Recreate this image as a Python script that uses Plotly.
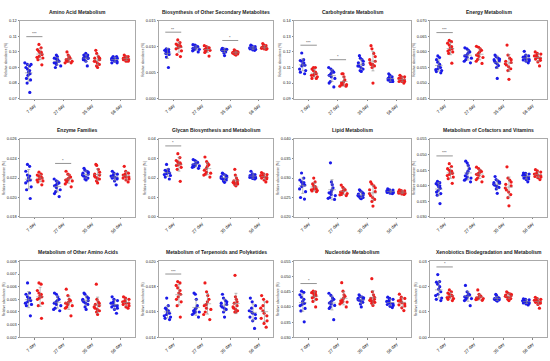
import numpy as np
import plotly.graph_objects as go

DAYS = ["7 day", "27 day", "35 day", "56 day"]

TITLES = [
    "Amino Acid Metabolism", "Biosynthesis of Other Secondary Metabolites",
    "Carbohydrate Metabolism", "Energy Metabolism",
    "Enzyme Families", "Glycan Biosynthesis and Metabolism",
    "Lipid Metabolism", "Metabolism of Cofactors and Vitamins",
    "Metabolism of Other Amino Acids", "Metabolism of Terpenoids and Polyketides",
    "Nucleotide Metabolism", "Xenobiotics Biodegradation and Metabolism",
]

# ---- values: one list per day (7, 27, 35, 56) ----
AA_BLUE = [[0.093, 0.092, 0.092, 0.091, 0.090, 0.089, 0.088, 0.087, 0.086, 0.085, 0.083, 0.082, 0.080, 0.074],
           [0.098, 0.097, 0.096, 0.0955, 0.095, 0.094, 0.094, 0.093, 0.093, 0.092, 0.091, 0.090],
           [0.099, 0.098, 0.098, 0.097, 0.097, 0.096, 0.096, 0.096, 0.095, 0.095, 0.094, 0.091],
           [0.097, 0.097, 0.096, 0.096, 0.096, 0.095, 0.095, 0.095, 0.094, 0.094, 0.093, 0.093]]
AA_RED = [[0.1048, 0.1026, 0.1015, 0.1004, 0.0998, 0.0993, 0.0983, 0.0972, 0.0965, 0.0961, 0.095, 0.0917],
          [0.100, 0.098, 0.097, 0.096, 0.096, 0.095, 0.095, 0.094, 0.094, 0.094, 0.093, 0.093],
          [0.101, 0.099, 0.097, 0.096, 0.096, 0.095, 0.094, 0.094, 0.093, 0.092, 0.091, 0.090],
          [0.098, 0.097, 0.097, 0.096, 0.096, 0.096, 0.095, 0.095, 0.095, 0.095, 0.094, 0.094]]

BIO_BLUE = [[0.0096, 0.0095, 0.0093, 0.0092, 0.0091, 0.0090, 0.0089, 0.0088, 0.0087, 0.0085, 0.0080, 0.0060],
            [0.0104, 0.0103, 0.0101, 0.0100, 0.0099, 0.0098, 0.0097, 0.0096, 0.0095, 0.0094, 0.0092, 0.0090],
            [0.0097, 0.0096, 0.0095, 0.0095, 0.0094, 0.0094, 0.0093, 0.0093, 0.0092, 0.0090, 0.0088, 0.0083],
            [0.0103, 0.0101, 0.0100, 0.0099, 0.0098, 0.0097, 0.0097, 0.0096, 0.0096, 0.0095, 0.0094, 0.0093]]
BIO_RED = [[0.0113, 0.0108, 0.0105, 0.0103, 0.0102, 0.0101, 0.0100, 0.0098, 0.0096, 0.0092, 0.0085, 0.0081],
           [0.0102, 0.0100, 0.0099, 0.0098, 0.0097, 0.0096, 0.0095, 0.0094, 0.0093, 0.0091, 0.0089, 0.0082],
           [0.0094, 0.0092, 0.0091, 0.0090, 0.0089, 0.0088, 0.0088, 0.0087, 0.0087, 0.0086, 0.0085, 0.0084],
           [0.0106, 0.0103, 0.0102, 0.0100, 0.0099, 0.0098, 0.0098, 0.0097, 0.0097, 0.0096, 0.0096, 0.0095]]

CARB_BLUE = [[0.1193, 0.115, 0.1145, 0.114, 0.113, 0.112, 0.1115, 0.111, 0.109, 0.108, 0.107, 0.106],
             [0.110, 0.109, 0.108, 0.107, 0.107, 0.106, 0.105, 0.104, 0.103, 0.101, 0.100, 0.0975],
             [0.1176, 0.116, 0.115, 0.114, 0.113, 0.112, 0.111, 0.111, 0.110, 0.109, 0.108, 0.1075],
             [0.106, 0.105, 0.104, 0.104, 0.103, 0.103, 0.102, 0.102, 0.102, 0.101, 0.101, 0.101]]
CARB_RED = [[0.110, 0.110, 0.109, 0.108, 0.107, 0.106, 0.106, 0.105, 0.105, 0.104, 0.103, 0.103],
            [0.106, 0.106, 0.104, 0.102, 0.101, 0.100, 0.100, 0.099, 0.099, 0.099, 0.098, 0.098],
            [0.124, 0.122, 0.119, 0.117, 0.115, 0.114, 0.113, 0.112, 0.112, 0.111, 0.110, 0.100],
            [0.105, 0.104, 0.104, 0.103, 0.103, 0.102, 0.102, 0.102, 0.101, 0.101, 0.101, 0.100]]

ENER_BLUE = [[0.0587, 0.0582, 0.0575, 0.0567, 0.0560, 0.0555, 0.0550, 0.0546, 0.0543, 0.0540, 0.0537, 0.0533],
             [0.0613, 0.0610, 0.0605, 0.0600, 0.0595, 0.0590, 0.0587, 0.0583, 0.0580, 0.0575, 0.0570, 0.0565],
             [0.0590, 0.0585, 0.0580, 0.0577, 0.0575, 0.0572, 0.0570, 0.0566, 0.0562, 0.0556, 0.0550, 0.0515],
             [0.0602, 0.0590, 0.0587, 0.0585, 0.0583, 0.0580, 0.0578, 0.0576, 0.0574, 0.0572, 0.0570, 0.0565]]
ENER_RED = [[0.0637, 0.0633, 0.0628, 0.0622, 0.0617, 0.0613, 0.0610, 0.0607, 0.0603, 0.0600, 0.0595, 0.0564],
            [0.0618, 0.0615, 0.0610, 0.0605, 0.0600, 0.0595, 0.0590, 0.0586, 0.0582, 0.0576, 0.0570, 0.0563],
            [0.0622, 0.0590, 0.0580, 0.0575, 0.0570, 0.0566, 0.0562, 0.0558, 0.0552, 0.0546, 0.0540, 0.0512],
            [0.0600, 0.0595, 0.0593, 0.0590, 0.0587, 0.0585, 0.0582, 0.0580, 0.0577, 0.0573, 0.0568, 0.0555]]

ENZ_BLUE = [[0.0234, 0.0232, 0.0227, 0.0223, 0.0222, 0.0220, 0.0218, 0.0217, 0.0215, 0.0211, 0.0208, 0.0199],
            [0.0219, 0.0217, 0.0216, 0.0215, 0.0214, 0.0213, 0.0212, 0.0210, 0.0208, 0.0206, 0.0204, 0.0201],
            [0.0230, 0.0228, 0.0227, 0.0226, 0.0225, 0.0224, 0.0223, 0.0222, 0.0221, 0.0220, 0.0219, 0.0218],
            [0.0227, 0.0225, 0.0224, 0.0223, 0.0222, 0.0221, 0.0221, 0.0220, 0.0220, 0.0219, 0.0217, 0.0213]]
ENZ_RED = [[0.0226, 0.0224, 0.0223, 0.0222, 0.0221, 0.0220, 0.0220, 0.0219, 0.0218, 0.0217, 0.0216, 0.0213],
           [0.0227, 0.0224, 0.0223, 0.0221, 0.0220, 0.0219, 0.0218, 0.0218, 0.0217, 0.0216, 0.0214, 0.0211],
           [0.0234, 0.0233, 0.0229, 0.0226, 0.0224, 0.0223, 0.0222, 0.0221, 0.0220, 0.0219, 0.0217, 0.0215],
           [0.0232, 0.0227, 0.0225, 0.0224, 0.0223, 0.0222, 0.0221, 0.0221, 0.0220, 0.0219, 0.0218, 0.0216]]

GLY_BLUE = [[0.0270, 0.0245, 0.0240, 0.0236, 0.0233, 0.0230, 0.0226, 0.0222, 0.0218, 0.0213, 0.0205, 0.0195],
            [0.0295, 0.0290, 0.0283, 0.0280, 0.0275, 0.0272, 0.0268, 0.0265, 0.0262, 0.0258, 0.0255, 0.0250],
            [0.0225, 0.0220, 0.0215, 0.0210, 0.0207, 0.0203, 0.0200, 0.0197, 0.0193, 0.0190, 0.0185, 0.0178],
            [0.0235, 0.0222, 0.0218, 0.0215, 0.0212, 0.0210, 0.0208, 0.0205, 0.0203, 0.0200, 0.0198, 0.0195]]
GLY_RED = [[0.0325, 0.0305, 0.0290, 0.0283, 0.0278, 0.0275, 0.0272, 0.0268, 0.0265, 0.0255, 0.0245, 0.0183],
           [0.0308, 0.0285, 0.0275, 0.0268, 0.0260, 0.0250, 0.0240, 0.0230, 0.0225, 0.0220, 0.0215, 0.0205],
           [0.0245, 0.0215, 0.0200, 0.0190, 0.0185, 0.0180, 0.0178, 0.0175, 0.0172, 0.0170, 0.0165, 0.0160],
           [0.0228, 0.0222, 0.0218, 0.0215, 0.0212, 0.0210, 0.0207, 0.0204, 0.0200, 0.0196, 0.0190, 0.0180]]

LIP_BLUE = [[0.0313, 0.0300, 0.0295, 0.0290, 0.0288, 0.0285, 0.0282, 0.0278, 0.0272, 0.0265, 0.0250, 0.0246],
            [0.0339, 0.0290, 0.0283, 0.0275, 0.0270, 0.0265, 0.0262, 0.0258, 0.0255, 0.0250, 0.0248, 0.0245],
            [0.0270, 0.0267, 0.0264, 0.0261, 0.0259, 0.0257, 0.0255, 0.0253, 0.0252, 0.0250, 0.0249, 0.0247],
            [0.0272, 0.0270, 0.0269, 0.0268, 0.0267, 0.0266, 0.0265, 0.0264, 0.0263, 0.0262, 0.0261, 0.0260]]
LIP_RED = [[0.0300, 0.0290, 0.0285, 0.0280, 0.0278, 0.0275, 0.0273, 0.0272, 0.0270, 0.0268, 0.0267, 0.0265],
           [0.0282, 0.0276, 0.0272, 0.0270, 0.0268, 0.0266, 0.0264, 0.0262, 0.0260, 0.0258, 0.0257, 0.0255],
           [0.0290, 0.0285, 0.0280, 0.0275, 0.0270, 0.0265, 0.0260, 0.0255, 0.0250, 0.0245, 0.0240, 0.0228],
           [0.0270, 0.0268, 0.0267, 0.0266, 0.0265, 0.0264, 0.0263, 0.0262, 0.0261, 0.0260, 0.0259, 0.0258]]

COF_BLUE = [[0.0414, 0.0410, 0.0407, 0.0403, 0.0400, 0.0397, 0.0392, 0.0385, 0.0380, 0.0375, 0.0370, 0.0343],
            [0.0479, 0.0473, 0.0465, 0.0455, 0.0447, 0.0440, 0.0432, 0.0428, 0.0425, 0.0422, 0.0418, 0.0413],
            [0.0430, 0.0420, 0.0415, 0.0412, 0.0410, 0.0408, 0.0405, 0.0402, 0.0398, 0.0395, 0.0390, 0.0376],
            [0.0441, 0.0440, 0.0438, 0.0436, 0.0434, 0.0432, 0.0430, 0.0428, 0.0425, 0.0422, 0.0420, 0.0413]]
COF_RED = [[0.0471, 0.0462, 0.0455, 0.0450, 0.0447, 0.0443, 0.0440, 0.0437, 0.0433, 0.0428, 0.0423, 0.0408],
           [0.0460, 0.0455, 0.0450, 0.0446, 0.0443, 0.0440, 0.0437, 0.0434, 0.0430, 0.0425, 0.0420, 0.0413],
           [0.0461, 0.0425, 0.0418, 0.0412, 0.0405, 0.0400, 0.0393, 0.0387, 0.0380, 0.0372, 0.0362, 0.0336],
           [0.0452, 0.0448, 0.0444, 0.0441, 0.0438, 0.0436, 0.0434, 0.0432, 0.0430, 0.0428, 0.0426, 0.0420]]

OAA_BLUE = [[0.0063, 0.0055, 0.0054, 0.0052, 0.0051, 0.0050, 0.0049, 0.0048, 0.0047, 0.0046, 0.0045, 0.0037],
            [0.0055, 0.0054, 0.0052, 0.0050, 0.0049, 0.0048, 0.0047, 0.0046, 0.0045, 0.0043, 0.0042, 0.0041],
            [0.0055, 0.0054, 0.0052, 0.0051, 0.0050, 0.0049, 0.0049, 0.0048, 0.0047, 0.0046, 0.0044, 0.0042],
            [0.0052, 0.0050, 0.0049, 0.0048, 0.0047, 0.0046, 0.0045, 0.0045, 0.0044, 0.0043, 0.0042, 0.0039]]
OAA_RED = [[0.0063, 0.0062, 0.0057, 0.0055, 0.0054, 0.0053, 0.0052, 0.0051, 0.0050, 0.0047, 0.0045, 0.0035],
           [0.0058, 0.0053, 0.0050, 0.0049, 0.0048, 0.0047, 0.0047, 0.0046, 0.0045, 0.0044, 0.0043, 0.0037],
           [0.0062, 0.0050, 0.0048, 0.0047, 0.0046, 0.0045, 0.0044, 0.0043, 0.0042, 0.0041, 0.0040, 0.0038],
           [0.0052, 0.0051, 0.0050, 0.0049, 0.0048, 0.0048, 0.0047, 0.0047, 0.0046, 0.0045, 0.0044, 0.0043]]

TER_BLUE = [[0.0171, 0.0165, 0.0163, 0.0162, 0.0161, 0.0160, 0.0159, 0.0158, 0.0157, 0.0156, 0.0155, 0.0154],
            [0.0175, 0.0174, 0.0170, 0.0165, 0.0163, 0.0162, 0.0161, 0.0160, 0.0160, 0.0159, 0.0158, 0.0156],
            [0.0174, 0.0171, 0.0169, 0.0168, 0.0167, 0.0166, 0.0165, 0.0164, 0.0163, 0.0162, 0.0160, 0.0156],
            [0.0171, 0.0168, 0.0165, 0.0163, 0.0161, 0.0160, 0.0159, 0.0158, 0.0156, 0.0155, 0.0153, 0.0147]]
TER_RED = [[0.0184, 0.0183, 0.0181, 0.0179, 0.0177, 0.0175, 0.0174, 0.0172, 0.0170, 0.0168, 0.0165, 0.0156],
           [0.0183, 0.0176, 0.0173, 0.0170, 0.0168, 0.0166, 0.0165, 0.0163, 0.0162, 0.0160, 0.0158, 0.0154],
           [0.0189, 0.0172, 0.0170, 0.0168, 0.0167, 0.0165, 0.0164, 0.0163, 0.0162, 0.0161, 0.0160, 0.0160],
           [0.0173, 0.0170, 0.0168, 0.0165, 0.0163, 0.0161, 0.0159, 0.0157, 0.0155, 0.0153, 0.0151, 0.0148]]

NUC_BLUE = [[0.0452, 0.0448, 0.0440, 0.0432, 0.0425, 0.0418, 0.0412, 0.0408, 0.0404, 0.0395, 0.0387, 0.0351],
            [0.0445, 0.0438, 0.0430, 0.0425, 0.0420, 0.0416, 0.0413, 0.0410, 0.0405, 0.0400, 0.0395, 0.0358],
            [0.0440, 0.0435, 0.0432, 0.0430, 0.0428, 0.0426, 0.0424, 0.0422, 0.0420, 0.0415, 0.0410, 0.0400],
            [0.0432, 0.0428, 0.0425, 0.0422, 0.0418, 0.0415, 0.0412, 0.0410, 0.0408, 0.0405, 0.0402, 0.0398]]
NUC_RED = [[0.0452, 0.0450, 0.0447, 0.0445, 0.0442, 0.0440, 0.0437, 0.0434, 0.0430, 0.0425, 0.0418, 0.0400],
           [0.0480, 0.0452, 0.0440, 0.0435, 0.0430, 0.0425, 0.0420, 0.0418, 0.0416, 0.0414, 0.0410, 0.0400],
           [0.0493, 0.0450, 0.0440, 0.0432, 0.0428, 0.0425, 0.0422, 0.0420, 0.0418, 0.0415, 0.0412, 0.0405],
           [0.0442, 0.0432, 0.0428, 0.0424, 0.0420, 0.0417, 0.0414, 0.0410, 0.0407, 0.0403, 0.0397, 0.0388]]

XEN_BLUE = [[0.0248, 0.0220, 0.0218, 0.0210, 0.0200, 0.0190, 0.0180, 0.0170, 0.0165, 0.0155, 0.0150, 0.0145],
            [0.0205, 0.0180, 0.0172, 0.0168, 0.0165, 0.0162, 0.0160, 0.0157, 0.0153, 0.0150, 0.0145, 0.0125],
            [0.0170, 0.0165, 0.0158, 0.0155, 0.0153, 0.0152, 0.0151, 0.0150, 0.0149, 0.0148, 0.0146, 0.0143],
            [0.0152, 0.0150, 0.0148, 0.0146, 0.0144, 0.0142, 0.0140, 0.0138, 0.0136, 0.0134, 0.0132, 0.0128]]
XEN_RED = [[0.0187, 0.0180, 0.0175, 0.0170, 0.0167, 0.0165, 0.0163, 0.0160, 0.0157, 0.0153, 0.0150, 0.0145],
           [0.0187, 0.0170, 0.0165, 0.0162, 0.0160, 0.0158, 0.0156, 0.0155, 0.0153, 0.0151, 0.0149, 0.0146],
           [0.0180, 0.0175, 0.0172, 0.0170, 0.0167, 0.0165, 0.0162, 0.0160, 0.0157, 0.0153, 0.0150, 0.0145],
           [0.0158, 0.0153, 0.0150, 0.0148, 0.0146, 0.0144, 0.0142, 0.0140, 0.0138, 0.0135, 0.0130, 0.0115]]

BLUE_SETS = [AA_BLUE, BIO_BLUE, CARB_BLUE, ENER_BLUE, ENZ_BLUE, GLY_BLUE,
             LIP_BLUE, COF_BLUE, OAA_BLUE, TER_BLUE, NUC_BLUE, XEN_BLUE]
RED_SETS = [AA_RED, BIO_RED, CARB_RED, ENER_RED, ENZ_RED, GLY_RED,
            LIP_RED, COF_RED, OAA_RED, TER_RED, NUC_RED, XEN_RED]

# axis ranges (min, max, step, tick format)
Y_AXES = [(0.07, 0.12, 0.01, ".2f"), (0.0, 0.015, 0.005, ".3f"), (0.09, 0.14, 0.01, ".2f"),
          (0.045, 0.070, 0.005, ".3f"), (0.018, 0.026, 0.002, ".3f"), (0.0, 0.04, 0.01, ".2f"),
          (0.020, 0.040, 0.005, ".3f"), (0.030, 0.055, 0.005, ".3f"), (0.002, 0.008, 0.001, ".3f"),
          (0.014, 0.020, 0.002, ".3f"), (0.030, 0.055, 0.005, ".3f"), (0.0, 0.03, 0.01, ".2f")]

# significance marks: (panel, day index, label)
SIGNIF = [(0, 0, "***"), (1, 0, "**"), (1, 2, "*"), (2, 0, "***"), (2, 1, "*"),
          (3, 0, "***"), (4, 1, "*"), (5, 0, "*"), (7, 0, "***"), (9, 0, "***"),
          (10, 0, "*"), (11, 0, "*")]

BLUE = "#1a1ae8"
RED = "#ee1c1c"
FONT = "Liberation Sans"

COL_DOM = [(20 / 550, 135 / 550), (159 / 550, 273 / 550), (294 / 550, 411 / 550), (430 / 550, 547 / 550)]
ROW_DOM = [(1 - 97 / 361, 1 - 18 / 361), (1 - 217 / 361, 1 - 138 / 361), (1 - 339 / 361, 1 - 262 / 361)]
OFF = 0.2

fig = go.Figure()
layout = dict(width=550, height=361, margin=dict(l=0, r=0, t=0, b=0),
              paper_bgcolor="white", plot_bgcolor="white", showlegend=False,
              font=dict(family=FONT, color="#222"), shapes=[], annotations=[])

for k in range(12):
    r, c = divmod(k, 4)
    xa = "x" if k == 0 else f"x{k+1}"
    ya = "y" if k == 0 else f"y{k+1}"
    lo, hi, step, fmt = Y_AXES[k]
    for sets, sgn, color in ((BLUE_SETS, -1, BLUE), (RED_SETS, 1, RED)):
        groups = sets[k]
        xs, ys = [], []
        for g, vals in enumerate(groups):
            xs += [g + sgn * OFF] * len(vals)
            ys += vals
        fig.add_trace(go.Box(x=xs, y=ys, xaxis=xa, yaxis=ya, boxpoints="all", jitter=0.9,
                             pointpos=0, width=0.3, line=dict(width=0, color="rgba(0,0,0,0)"),
                             fillcolor="rgba(0,0,0,0)", marker=dict(color=color, size=3.2),
                             hoverinfo="y"))
        means = [float(np.mean(v)) for v in groups]
        sds = [float(np.std(v, ddof=1)) for v in groups]
        fig.add_trace(go.Scatter(x=[g + sgn * OFF for g in range(4)], y=means, xaxis=xa, yaxis=ya,
                                 mode="markers", marker=dict(size=1, color="rgba(0,0,0,0)"),
                                 error_y=dict(type="data", array=sds, color="rgba(140,140,140,0.85)",
                                              thickness=0.7, width=1.5),
                                 error_x=dict(type="data", array=[0.13] * 4, color="rgba(140,140,140,0.85)",
                                              thickness=0.7, width=0),
                                 hoverinfo="skip"))
    ticks = list(np.round(np.arange(lo, hi + step / 2, step), 6))
    layout["xaxis" if k == 0 else f"xaxis{k+1}"] = dict(
        domain=COL_DOM[c], anchor=ya, range=[-0.5, 3.5], tickmode="array",
        tickvals=[0, 1, 2, 3], ticktext=DAYS, tickangle=-45, showgrid=False, zeroline=False,
        showline=True, mirror=True, linecolor="#aaa", linewidth=0.8, ticks="outside",
        ticklen=1.5, tickcolor="#888", tickfont=dict(size=4.5, family=FONT, color="#222"))
    layout["yaxis" if k == 0 else f"yaxis{k+1}"] = dict(
        domain=ROW_DOM[r], anchor=xa, range=[lo, hi], tickmode="array", tickvals=ticks,
        ticktext=[format(t, fmt) for t in ticks], showgrid=False, zeroline=False,
        showline=True, mirror=True, linecolor="#aaa", linewidth=0.8, ticks="outside",
        ticklen=1.5, tickcolor="#888", tickfont=dict(size=4, family=FONT, color="#222"),
        title=dict(text="Relative abundance (%)", font=dict(size=3.2, family=FONT, color="#333"),
                   standoff=1))
    layout["annotations"].append(dict(
        text=f"<b>{TITLES[k]}</b>", x=(COL_DOM[c][0] + COL_DOM[c][1]) / 2, y=ROW_DOM[r][1],
        xref="paper", yref="paper", xanchor="center", yanchor="bottom", yshift=4,
        showarrow=False, font=dict(size=5, family=FONT, color="#222")))

for k, g, label in SIGNIF:
    xa = "x" if k == 0 else f"x{k+1}"
    ya = "y" if k == 0 else f"y{k+1}"
    lo, hi, step, fmt = Y_AXES[k]
    top = max(max(BLUE_SETS[k][g]), max(RED_SETS[k][g]))
    ys = top + 0.1 * (hi - lo)
    layout["shapes"].append(dict(type="line", xref=xa, yref=ya, x0=g - OFF - 0.08, x1=g + OFF + 0.08,
                                 y0=ys, y1=ys, line=dict(color="#666", width=0.7)))
    layout["annotations"].append(dict(text=label, x=g, y=ys, xref=xa, yref=ya, showarrow=False,
                                      yanchor="bottom", yshift=-1.5,
                                      font=dict(size=4, family=FONT, color="#444")))

fig.update_layout(**layout)
fig.write_html("out.html", config={"displayModeBar": False},
               post_script="document.body.style.margin='0';document.body.style.padding='0';")
